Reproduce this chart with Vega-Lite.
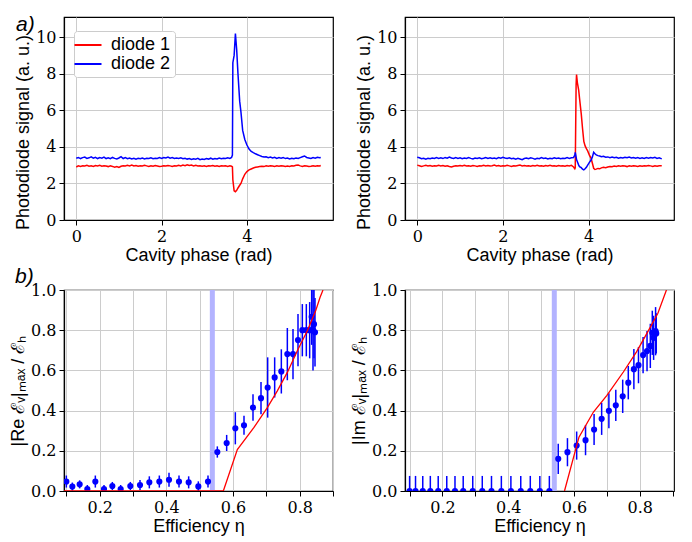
{
  "$schema": "https://vega.github.io/schema/vega-lite/v6.json",
  "padding": {"left": 8, "top": 13, "right": 5, "bottom": 5},
  "bounds": "flush",
  "columns": 2,
  "spacing": {"row": 70, "column": 72},
  "resolve": {"scale": {"x": "independent", "y": "independent", "color": "independent"}, "legend": {"color": "independent"}},
  "config": {
    "background": "white",
    "view": {"stroke": "black", "strokeWidth": 1.2},
    "axis": {
      "labelFont": "DejaVu Serif", "labelFontSize": 16, "labelColor": "black",
      "titleFont": "Liberation Sans", "titleFontSize": 18, "titleFontWeight": "normal", "titleColor": "black",
      "domainColor": "black", "domainWidth": 1.2, "tickColor": "black", "tickSize": 5, "tickWidth": 1,
      "gridColor": "#cccccc", "gridWidth": 1, "labelPadding": 3, "titlePadding": 3
    },
    "axisX": {"titlePadding": 2},
    "title": {"font": "Liberation Sans", "fontStyle": "italic", "fontWeight": "normal", "fontSize": 21, "anchor": "start", "frame": "group", "color": "black", "baseline": "alphabetic"}
  },
  "datasets": {
    "tl": [
      {"x":0.00,"d1":2.90,"d2":3.38},{"x":0.05,"d1":2.96,"d2":3.42},{"x":0.10,"d1":2.93,"d2":3.36},{"x":0.15,"d1":2.97,"d2":3.41},
      {"x":0.20,"d1":2.95,"d2":3.44},{"x":0.25,"d1":2.99,"d2":3.37},{"x":0.30,"d1":2.94,"d2":3.40},{"x":0.35,"d1":2.97,"d2":3.45},
      {"x":0.40,"d1":2.93,"d2":3.38},{"x":0.45,"d1":2.98,"d2":3.43},{"x":0.50,"d1":2.95,"d2":3.36},{"x":0.55,"d1":2.99,"d2":3.41},
      {"x":0.60,"d1":2.94,"d2":3.38},{"x":0.65,"d1":2.97,"d2":3.44},{"x":0.70,"d1":2.95,"d2":3.36},{"x":0.75,"d1":2.92,"d2":3.40},
      {"x":0.80,"d1":2.96,"d2":3.35},{"x":0.85,"d1":2.93,"d2":3.42},{"x":0.90,"d1":2.89,"d2":3.37},{"x":0.95,"d1":2.92,"d2":3.34},
      {"x":1.00,"d1":2.87,"d2":3.39},{"x":1.05,"d1":2.94,"d2":3.46},{"x":1.10,"d1":2.97,"d2":3.36},{"x":1.15,"d1":2.95,"d2":3.41},
      {"x":1.20,"d1":2.99,"d2":3.35},{"x":1.25,"d1":2.96,"d2":3.39},{"x":1.30,"d1":3.00,"d2":3.34},{"x":1.35,"d1":2.95,"d2":3.38},
      {"x":1.40,"d1":2.98,"d2":3.33},{"x":1.45,"d1":2.94,"d2":3.37},{"x":1.50,"d1":2.97,"d2":3.35},{"x":1.55,"d1":2.95,"d2":3.39},
      {"x":1.60,"d1":2.99,"d2":3.34},{"x":1.65,"d1":2.96,"d2":3.37},{"x":1.70,"d1":2.93,"d2":3.36},{"x":1.75,"d1":2.97,"d2":3.40},
      {"x":1.80,"d1":2.94,"d2":3.35},{"x":1.85,"d1":2.98,"d2":3.38},{"x":1.90,"d1":2.95,"d2":3.36},{"x":1.95,"d1":2.92,"d2":3.41},
      {"x":2.00,"d1":2.94,"d2":3.37},{"x":2.05,"d1":2.97,"d2":3.42},{"x":2.10,"d1":2.95,"d2":3.39},{"x":2.15,"d1":2.98,"d2":3.44},
      {"x":2.20,"d1":2.96,"d2":3.38},{"x":2.25,"d1":2.93,"d2":3.41},{"x":2.30,"d1":2.97,"d2":3.36},{"x":2.35,"d1":2.95,"d2":3.39},
      {"x":2.40,"d1":2.99,"d2":3.37},{"x":2.45,"d1":2.96,"d2":3.40},{"x":2.50,"d1":3.00,"d2":3.35},{"x":2.55,"d1":2.97,"d2":3.38},
      {"x":2.60,"d1":3.02,"d2":3.33},{"x":2.65,"d1":2.98,"d2":3.36},{"x":2.70,"d1":3.00,"d2":3.31},{"x":2.75,"d1":2.96,"d2":3.35},
      {"x":2.80,"d1":2.99,"d2":3.32},{"x":2.85,"d1":2.95,"d2":3.37},{"x":2.90,"d1":2.97,"d2":3.30},{"x":2.95,"d1":2.94,"d2":3.34},
      {"x":3.00,"d1":2.96,"d2":3.31},{"x":3.05,"d1":2.93,"d2":3.36},{"x":3.10,"d1":2.97,"d2":3.33},{"x":3.15,"d1":2.95,"d2":3.38},
      {"x":3.20,"d1":2.98,"d2":3.32},{"x":3.25,"d1":2.94,"d2":3.36},{"x":3.30,"d1":2.96,"d2":3.34},{"x":3.35,"d1":2.93,"d2":3.39},
      {"x":3.40,"d1":2.97,"d2":3.35},{"x":3.45,"d1":2.95,"d2":3.38},{"x":3.50,"d1":2.96,"d2":3.36},{"x":3.55,"d1":2.93,"d2":3.40},
      {"x":3.60,"d1":2.96,"d2":3.37},{"x":3.64,"d1":2.94,"d2":3.42},{"x":3.66,"d1":2.90,"d2":3.55},{"x":3.67,"d1":2.20,"d2":8.60},
      {"x":3.70,"d1":1.60,"d2":9.00},{"x":3.73,"d1":1.55,"d2":10.20},{"x":3.76,"d1":1.62,"d2":9.30},{"x":3.79,"d1":1.75,"d2":8.00},
      {"x":3.83,"d1":1.90,"d2":6.50},{"x":3.86,"d1":2.00,"d2":5.90},{"x":3.90,"d1":2.25,"d2":4.90},{"x":3.95,"d1":2.50,"d2":4.40},
      {"x":4.00,"d1":2.65,"d2":4.10},{"x":4.05,"d1":2.74,"d2":3.88},{"x":4.10,"d1":2.79,"d2":3.75},{"x":4.15,"d1":2.84,"d2":3.68},
      {"x":4.20,"d1":2.88,"d2":3.62},{"x":4.25,"d1":2.90,"d2":3.57},{"x":4.30,"d1":2.92,"d2":3.52},{"x":4.35,"d1":2.94,"d2":3.47},
      {"x":4.40,"d1":2.92,"d2":3.44},{"x":4.45,"d1":2.96,"d2":3.46},{"x":4.50,"d1":2.94,"d2":3.41},{"x":4.55,"d1":2.97,"d2":3.44},
      {"x":4.60,"d1":2.95,"d2":3.39},{"x":4.65,"d1":2.93,"d2":3.43},{"x":4.70,"d1":2.96,"d2":3.37},{"x":4.75,"d1":2.94,"d2":3.41},
      {"x":4.80,"d1":2.97,"d2":3.38},{"x":4.85,"d1":2.95,"d2":3.42},{"x":4.90,"d1":2.92,"d2":3.36},{"x":4.95,"d1":2.95,"d2":3.39},
      {"x":5.00,"d1":2.93,"d2":3.34},{"x":5.05,"d1":2.97,"d2":3.38},{"x":5.10,"d1":2.95,"d2":3.35},{"x":5.15,"d1":2.99,"d2":3.39},
      {"x":5.20,"d1":3.00,"d2":3.36},{"x":5.25,"d1":2.96,"d2":3.41},{"x":5.30,"d1":2.93,"d2":3.46},{"x":5.35,"d1":2.97,"d2":3.50},
      {"x":5.40,"d1":2.95,"d2":3.42},{"x":5.45,"d1":2.92,"d2":3.39},{"x":5.50,"d1":2.94,"d2":3.36},{"x":5.55,"d1":2.97,"d2":3.41},
      {"x":5.60,"d1":2.94,"d2":3.38},{"x":5.65,"d1":2.96,"d2":3.43},{"x":5.70,"d1":2.95,"d2":3.40},{"x":5.73,"d1":2.98,"d2":3.42}
    ],
    "tr": [
      {"x":0.00,"d1":3.00,"d2":3.43},{"x":0.05,"d1":2.97,"d2":3.40},{"x":0.10,"d1":2.93,"d2":3.35},{"x":0.15,"d1":2.96,"d2":3.38},
      {"x":0.20,"d1":2.99,"d2":3.33},{"x":0.25,"d1":2.95,"d2":3.37},{"x":0.30,"d1":2.98,"d2":3.35},{"x":0.35,"d1":2.94,"d2":3.39},
      {"x":0.40,"d1":2.97,"d2":3.36},{"x":0.45,"d1":2.95,"d2":3.41},{"x":0.50,"d1":2.99,"d2":3.37},{"x":0.55,"d1":2.96,"d2":3.40},
      {"x":0.60,"d1":2.98,"d2":3.36},{"x":0.65,"d1":2.94,"d2":3.42},{"x":0.70,"d1":2.97,"d2":3.38},{"x":0.75,"d1":2.93,"d2":3.44},
      {"x":0.80,"d1":2.90,"d2":3.39},{"x":0.85,"d1":2.94,"d2":3.36},{"x":0.90,"d1":2.97,"d2":3.41},{"x":0.95,"d1":2.95,"d2":3.37},
      {"x":1.00,"d1":2.98,"d2":3.40},{"x":1.05,"d1":2.96,"d2":3.35},{"x":1.10,"d1":2.99,"d2":3.39},{"x":1.15,"d1":2.95,"d2":3.36},
      {"x":1.20,"d1":2.97,"d2":3.41},{"x":1.25,"d1":2.94,"d2":3.37},{"x":1.30,"d1":2.98,"d2":3.34},{"x":1.35,"d1":2.96,"d2":3.39},
      {"x":1.40,"d1":2.93,"d2":3.36},{"x":1.45,"d1":2.97,"d2":3.40},{"x":1.50,"d1":2.95,"d2":3.35},{"x":1.55,"d1":2.99,"d2":3.38},
      {"x":1.60,"d1":2.96,"d2":3.42},{"x":1.65,"d1":2.98,"d2":3.37},{"x":1.70,"d1":2.95,"d2":3.40},{"x":1.75,"d1":2.97,"d2":3.36},
      {"x":1.80,"d1":3.00,"d2":3.39},{"x":1.85,"d1":2.96,"d2":3.35},{"x":1.90,"d1":2.98,"d2":3.41},{"x":1.95,"d1":2.94,"d2":3.38},
      {"x":2.00,"d1":2.97,"d2":3.43},{"x":2.05,"d1":2.95,"d2":3.39},{"x":2.10,"d1":2.99,"d2":3.36},{"x":2.15,"d1":2.96,"d2":3.40},
      {"x":2.20,"d1":2.93,"d2":3.35},{"x":2.25,"d1":2.97,"d2":3.38},{"x":2.30,"d1":2.95,"d2":3.33},{"x":2.35,"d1":2.98,"d2":3.37},
      {"x":2.40,"d1":3.00,"d2":3.34},{"x":2.45,"d1":2.96,"d2":3.30},{"x":2.50,"d1":2.98,"d2":3.36},{"x":2.55,"d1":2.95,"d2":3.39},
      {"x":2.60,"d1":2.97,"d2":3.35},{"x":2.65,"d1":2.94,"d2":3.40},{"x":2.70,"d1":2.98,"d2":3.37},{"x":2.75,"d1":2.96,"d2":3.33},
      {"x":2.80,"d1":2.99,"d2":3.38},{"x":2.85,"d1":2.95,"d2":3.35},{"x":2.90,"d1":2.97,"d2":3.41},{"x":2.95,"d1":2.94,"d2":3.36},
      {"x":3.00,"d1":2.98,"d2":3.39},{"x":3.05,"d1":2.96,"d2":3.34},{"x":3.10,"d1":2.99,"d2":3.38},{"x":3.15,"d1":2.95,"d2":3.35},
      {"x":3.20,"d1":2.97,"d2":3.40},{"x":3.25,"d1":2.94,"d2":3.36},{"x":3.30,"d1":2.98,"d2":3.39},{"x":3.35,"d1":2.95,"d2":3.35},
      {"x":3.40,"d1":2.97,"d2":3.38},{"x":3.45,"d1":2.94,"d2":3.36},{"x":3.50,"d1":2.98,"d2":3.41},{"x":3.55,"d1":2.96,"d2":3.37},
      {"x":3.60,"d1":2.99,"d2":3.40},{"x":3.65,"d1":2.90,"d2":3.42},{"x":3.68,"d1":2.80,"d2":3.55},{"x":3.69,"d1":2.85,"d2":3.70},
      {"x":3.71,"d1":7.40,"d2":3.45},{"x":3.72,"d1":7.95,"d2":3.30},{"x":3.74,"d1":7.50,"d2":3.19},{"x":3.77,"d1":7.10,"d2":3.00},
      {"x":3.79,"d1":6.65,"d2":2.92},{"x":3.83,"d1":5.80,"d2":2.86},{"x":3.86,"d1":5.00,"d2":2.78},{"x":3.89,"d1":4.30,"d2":2.74},
      {"x":3.92,"d1":4.05,"d2":2.80},{"x":3.95,"d1":3.90,"d2":2.88},{"x":3.98,"d1":3.78,"d2":3.00},{"x":4.02,"d1":3.55,"d2":3.15},
      {"x":4.06,"d1":3.37,"d2":3.28},{"x":4.09,"d1":3.10,"d2":3.45},{"x":4.12,"d1":2.83,"d2":3.70},{"x":4.15,"d1":2.76,"d2":3.62},
      {"x":4.18,"d1":2.78,"d2":3.56},{"x":4.22,"d1":2.82,"d2":3.52},{"x":4.26,"d1":2.80,"d2":3.50},{"x":4.30,"d1":2.85,"d2":3.46},
      {"x":4.35,"d1":2.88,"d2":3.48},{"x":4.40,"d1":2.86,"d2":3.43},{"x":4.45,"d1":2.90,"d2":3.45},{"x":4.50,"d1":2.93,"d2":3.41},
      {"x":4.55,"d1":2.91,"d2":3.44},{"x":4.60,"d1":2.95,"d2":3.40},{"x":4.65,"d1":2.93,"d2":3.43},{"x":4.70,"d1":2.96,"d2":3.38},
      {"x":4.75,"d1":2.94,"d2":3.42},{"x":4.80,"d1":2.97,"d2":3.39},{"x":4.85,"d1":2.95,"d2":3.43},{"x":4.90,"d1":2.92,"d2":3.40},
      {"x":4.95,"d1":2.96,"d2":3.44},{"x":5.00,"d1":2.94,"d2":3.39},{"x":5.05,"d1":2.97,"d2":3.42},{"x":5.10,"d1":2.95,"d2":3.38},
      {"x":5.15,"d1":2.93,"d2":3.41},{"x":5.20,"d1":2.96,"d2":3.37},{"x":5.25,"d1":2.94,"d2":3.40},{"x":5.30,"d1":2.97,"d2":3.36},
      {"x":5.35,"d1":2.95,"d2":3.41},{"x":5.40,"d1":2.98,"d2":3.38},{"x":5.45,"d1":2.96,"d2":3.42},{"x":5.50,"d1":2.93,"d2":3.39},
      {"x":5.55,"d1":2.96,"d2":3.43},{"x":5.60,"d1":2.94,"d2":3.37},{"x":5.65,"d1":2.97,"d2":3.40},{"x":5.71,"d1":2.96,"d2":3.34}
    ],
    "bl": [
      {"x":0.100,"y":0.047,"e":0.030},{"x":0.118,"y":0.022,"e":0.020},{"x":0.140,"y":0.033,"e":0.020},{"x":0.163,"y":0.010,"e":0.020},
      {"x":0.187,"y":0.047,"e":0.030},{"x":0.213,"y":0.010,"e":0.020},{"x":0.238,"y":0.025,"e":0.020},{"x":0.263,"y":0.010,"e":0.020},
      {"x":0.292,"y":0.025,"e":0.020},{"x":0.321,"y":0.030,"e":0.025},{"x":0.349,"y":0.043,"e":0.030},{"x":0.379,"y":0.047,"e":0.030},
      {"x":0.408,"y":0.056,"e":0.035},{"x":0.438,"y":0.047,"e":0.030},{"x":0.467,"y":0.043,"e":0.030},{"x":0.496,"y":0.023,"e":0.025},
      {"x":0.525,"y":0.047,"e":0.030},{"x":0.553,"y":0.194,"e":0.028},{"x":0.581,"y":0.239,"e":0.040},{"x":0.607,"y":0.312,"e":0.080},
      {"x":0.633,"y":0.327,"e":0.047},{"x":0.660,"y":0.415,"e":0.066},{"x":0.684,"y":0.462,"e":0.080},{"x":0.704,"y":0.515,"e":0.150},
      {"x":0.725,"y":0.565,"e":0.100},{"x":0.745,"y":0.595,"e":0.110},{"x":0.763,"y":0.681,"e":0.130},{"x":0.780,"y":0.681,"e":0.125},
      {"x":0.795,"y":0.751,"e":0.130},{"x":0.808,"y":0.800,"e":0.130},{"x":0.820,"y":0.800,"e":0.130},{"x":0.830,"y":0.800,"e":0.140},
      {"x":0.836,"y":0.867,"e":0.140},{"x":0.840,"y":0.800,"e":0.200},{"x":0.843,"y":0.830,"e":0.170},{"x":0.846,"y":0.790,"e":0.170}
    ],
    "br": [
      {"x":0.100,"y":0,"e":0.075},{"x":0.118,"y":0,"e":0.075},{"x":0.140,"y":0,"e":0.075},{"x":0.163,"y":0,"e":0.075},
      {"x":0.187,"y":0,"e":0.075},{"x":0.213,"y":0,"e":0.075},{"x":0.238,"y":0,"e":0.075},{"x":0.263,"y":0,"e":0.075},
      {"x":0.292,"y":0,"e":0.075},{"x":0.321,"y":0,"e":0.075},{"x":0.349,"y":0,"e":0.075},{"x":0.379,"y":0,"e":0.075},
      {"x":0.408,"y":0,"e":0.075},{"x":0.438,"y":0,"e":0.075},{"x":0.467,"y":0,"e":0.075},{"x":0.496,"y":0,"e":0.075},
      {"x":0.525,"y":0,"e":0.075},{"x":0.552,"y":0.160,"e":0.075},{"x":0.580,"y":0.193,"e":0.070},{"x":0.608,"y":0.226,"e":0.070},
      {"x":0.635,"y":0.253,"e":0.075},{"x":0.661,"y":0.306,"e":0.077},{"x":0.684,"y":0.359,"e":0.080},{"x":0.706,"y":0.399,"e":0.087},
      {"x":0.727,"y":0.426,"e":0.078},{"x":0.748,"y":0.471,"e":0.083},{"x":0.765,"y":0.539,"e":0.083},{"x":0.782,"y":0.606,"e":0.100},
      {"x":0.796,"y":0.626,"e":0.090},{"x":0.810,"y":0.676,"e":0.090},{"x":0.822,"y":0.696,"e":0.100},{"x":0.832,"y":0.722,"e":0.110},
      {"x":0.838,"y":0.787,"e":0.110},{"x":0.842,"y":0.762,"e":0.110},{"x":0.848,"y":0.795,"e":0.120},{"x":0.850,"y":0.784,"e":0.100}
    ],
    "blred": [
      {"x":0.09,"y":0},{"x":0.571,"y":0},{"x":0.613,"y":0.206},{"x":0.663,"y":0.316},{"x":0.703,"y":0.415},{"x":0.733,"y":0.498},
      {"x":0.763,"y":0.59},{"x":0.793,"y":0.698},{"x":0.823,"y":0.797},{"x":0.848,"y":0.897},{"x":0.861,"y":0.963},{"x":0.87,"y":1.0}
    ],
    "brred": [
      {"x":0.571,"y":0},{"x":0.615,"y":0.268},{"x":0.659,"y":0.393},{"x":0.7,"y":0.476},{"x":0.75,"y":0.592},{"x":0.79,"y":0.692},
      {"x":0.83,"y":0.809},{"x":0.855,"y":0.884},{"x":0.881,"y":1.0}
    ],
    "blband": [{"x":0.538}],
    "brband": [{"x":0.540}]
  },
  "concat": [
    {
      "width": 269, "height": 203,
      "title": {"text": "a)", "dx": -48, "offset": -18},
      "data": {"name": "tl"},
      "transform": [{"fold": ["d1", "d2"], "as": ["series", "v"]}],
      "mark": {"type": "line", "strokeWidth": 1.5},
      "encoding": {
        "x": {"field": "x", "type": "quantitative", "scale": {"domain": [-0.287, 6.017], "nice": false, "zero": false},
              "axis": {"values": [0, 2, 4], "title": "Cavity phase (rad)", "format": "d"}},
        "y": {"field": "v", "type": "quantitative", "scale": {"domain": [0, 11.1], "nice": false},
              "axis": {"values": [0, 2, 4, 6, 8, 10], "title": "Photodiode signal (a. u.)", "format": "d", "titleY": 115}},
        "color": {"field": "series", "type": "nominal",
                  "scale": {"domain": ["d1", "d2"], "range": ["#ff0000", "#0000ff"]},
                  "legend": {"title": null, "orient": "none", "legendX": 10, "legendY": 14,
                             "labelExpr": "datum.label == 'd1' ? 'diode 1' : 'diode 2'",
                             "symbolType": "M-2.3,0M-1.5,0H1.5", "symbolSize": 324, "symbolStrokeWidth": 2,
                             "labelFont": "Liberation Sans", "labelFontSize": 18, "labelColor": "black", "labelOffset": 13,
                             "strokeColor": "#cccccc", "fillColor": "white", "padding": 4, "cornerRadius": 3, "rowPadding": 0}}
      }
    },
    {
      "width": 269, "height": 203,
      "data": {"name": "tr"},
      "transform": [{"fold": ["d1", "d2"], "as": ["series", "v"]}],
      "mark": {"type": "line", "strokeWidth": 1.5},
      "encoding": {
        "x": {"field": "x", "type": "quantitative", "scale": {"domain": [-0.286, 5.996], "nice": false, "zero": false},
              "axis": {"values": [0, 2, 4], "title": "Cavity phase (rad)", "format": "d"}},
        "y": {"field": "v", "type": "quantitative", "scale": {"domain": [0, 11.1], "nice": false},
              "axis": {"values": [0, 2, 4, 6, 8, 10], "title": "Photodiode signal (a. u.)", "format": "d", "titleY": 115}},
        "color": {"field": "series", "type": "nominal",
                  "scale": {"domain": ["d1", "d2"], "range": ["#ff0000", "#0000ff"]}, "legend": null}
      }
    },
    {
      "width": 269, "height": 201,
      "title": {"text": "b)", "dx": -49, "offset": -5},
      "encoding": {
        "x": {"field": "x", "type": "quantitative", "scale": {"domain": [0.093, 0.9], "nice": false, "zero": false},
              "axis": {"values": [0.1, 0.2, 0.3, 0.4, 0.5, 0.6, 0.7, 0.8, 0.9], "title": "Efficiency η",
                       "labelExpr": "(datum.value > 0.15 && datum.value < 0.25) || (datum.value > 0.35 && datum.value < 0.45) || (datum.value > 0.55 && datum.value < 0.65) || (datum.value > 0.75 && datum.value < 0.85) ? format(datum.value, '.1f') : ''"}}
      },
      "layer": [
        {
          "data": {"name": "blband"},
          "mark": {"type": "rule", "color": "#b3b3ff", "strokeWidth": 5}
        },
        {
          "data": {"name": "bl"},
          "mark": {"type": "errorbar", "ticks": false, "color": "#0000ff", "thickness": 1.5, "clip": true},
          "encoding": {
            "y": {"field": "y", "type": "quantitative", "scale": {"domain": [0, 1], "nice": false},
                  "axis": {"values": [0, 0.2, 0.4, 0.6, 0.8, 1.0], "format": ".1f"}, "title": "|Re ℰᵥ|ₘₐₓ / ℰₕ"},
            "yError": {"field": "e"}
          }
        },
        {
          "data": {"name": "bl"},
          "mark": {"type": "errorbar", "ticks": false, "color": "#0000ff", "thickness": 1.5, "clip": true},
          "encoding": {
            "y": {"field": "y", "type": "quantitative", "title": "|Re ℰᵥ|ₘₐₓ / ℰₕ"},
            "xError": {"value": 0.012}
          }
        },
        {
          "data": {"name": "bl"},
          "mark": {"type": "point", "filled": true, "shape": "circle", "size": 38, "color": "#0000ff", "opacity": 1, "clip": true},
          "encoding": {
            "y": {"field": "y", "type": "quantitative", "title": "|Re ℰᵥ|ₘₐₓ / ℰₕ"}
          }
        },
        {
          "data": {"name": "blred"},
          "mark": {"type": "line", "color": "#ff0000", "strokeWidth": 1.3, "clip": true},
          "encoding": {
            "y": {"field": "y", "type": "quantitative", "title": "|Re ℰᵥ|ₘₐₓ / ℰₕ"}
          }
        }
      ]
    },
    {
      "width": 269, "height": 201,
      "encoding": {
        "x": {"field": "x", "type": "quantitative", "scale": {"domain": [0.086, 0.904], "nice": false, "zero": false},
              "axis": {"values": [0.1, 0.2, 0.3, 0.4, 0.5, 0.6, 0.7, 0.8, 0.9], "title": "Efficiency η",
                       "labelExpr": "(datum.value > 0.15 && datum.value < 0.25) || (datum.value > 0.35 && datum.value < 0.45) || (datum.value > 0.55 && datum.value < 0.65) || (datum.value > 0.75 && datum.value < 0.85) ? format(datum.value, '.1f') : ''"}}
      },
      "layer": [
        {
          "data": {"name": "brband"},
          "mark": {"type": "rule", "color": "#b3b3ff", "strokeWidth": 5}
        },
        {
          "data": {"name": "br"},
          "mark": {"type": "errorbar", "ticks": false, "color": "#0000ff", "thickness": 1.5, "clip": true},
          "encoding": {
            "y": {"field": "y", "type": "quantitative", "scale": {"domain": [0, 1], "nice": false},
                  "axis": {"values": [0, 0.2, 0.4, 0.6, 0.8, 1.0], "format": ".1f"}, "title": "|Im ℰᵥ|ₘₐₓ / ℰₕ"},
            "yError": {"field": "e"}
          }
        },
        {
          "data": {"name": "br"},
          "mark": {"type": "errorbar", "ticks": false, "color": "#0000ff", "thickness": 1.5, "clip": true},
          "encoding": {
            "y": {"field": "y", "type": "quantitative", "title": "|Im ℰᵥ|ₘₐₓ / ℰₕ"},
            "xError": {"value": 0.012}
          }
        },
        {
          "data": {"name": "br"},
          "mark": {"type": "point", "filled": true, "shape": "circle", "size": 38, "color": "#0000ff", "opacity": 1, "clip": true},
          "encoding": {
            "y": {"field": "y", "type": "quantitative", "title": "|Im ℰᵥ|ₘₐₓ / ℰₕ"}
          }
        },
        {
          "data": {"name": "brred"},
          "mark": {"type": "line", "color": "#ff0000", "strokeWidth": 1.3, "clip": true},
          "encoding": {
            "y": {"field": "y", "type": "quantitative", "title": "|Im ℰᵥ|ₘₐₓ / ℰₕ"}
          }
        }
      ]
    }
  ]
}
